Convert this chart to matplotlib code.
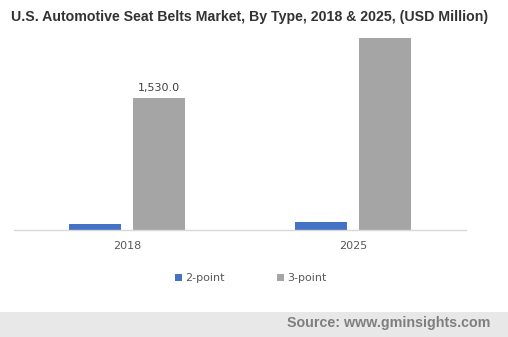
import matplotlib.pyplot as plt
import numpy as np

years = ['2018', '2025']
two_point = [69, 92]
three_point = [1530.0, 2220]
series_names = ['2-point', '3-point']

blue = '#4472C4'
grey = '#A5A5A5'

fig = plt.figure(figsize=(5.08, 3.37), dpi=100)
ax = fig.add_axes([14 / 508, 1 - 230 / 337, 452 / 508, 200 / 337])

x = np.arange(len(years))
w = 0.226
off = 0.1416
b1 = ax.bar(x - off, two_point, w, color=blue, label=series_names[0])
b2 = ax.bar(x + off, three_point, w, color=grey, label=series_names[1])

# only the 2018 3-point bar carries a value label
ax.text(x[0] + off, three_point[0] + 55, f'{three_point[0]:,.1f}',
        ha='center', va='bottom', fontsize=8, color='#404040', family='DejaVu Sans')

ax.set_xlim(-0.5, 1.5)
ax.set_ylim(0, 2312)
ax.set_yticks([])
ax.set_xticks(x)
ax.set_xticklabels(years, fontsize=8, color='#595959', family='DejaVu Sans')
ax.tick_params(axis='x', length=0, pad=8)
for s in ['top', 'right', 'left']:
    ax.spines[s].set_visible(False)
ax.spines['bottom'].set_color('#D9D9D9')
ax.spines['bottom'].set_linewidth(1)

fig.legend(handles=[b1, b2], labels=series_names, loc='center', bbox_to_anchor=(251 / 508, 1 - 278 / 337),
           ncol=2, frameon=False, handlelength=0.6, handleheight=0.6,
           handletextpad=0.3, columnspacing=4.7, prop={'family': 'DejaVu Sans', 'size': 8})
for t in fig.legends[0].get_texts():
    t.set_color('#595959')

fig.text(250 / 508, 1 - 17 / 337, 'U.S. Automotive Seat Belts Market, By Type, 2018 & 2025, (USD Million)',
         ha='center', va='center', fontsize=10.2, fontweight='bold', color='#333333',
         family='Liberation Sans')

# source band along the bottom
fig.patches.append(plt.Rectangle((0, 0), 1, 25 / 337, transform=fig.transFigure,
                                 facecolor='#E8E8E8', edgecolor='none', zorder=0))
fig.text(490 / 508, 1 - 323 / 337, 'Source: www.gminsights.com', ha='right', va='center',
         fontsize=10.3, fontweight='bold', color='#7F7F7F', family='Liberation Sans')

fig.savefig('out.png', dpi=100)
